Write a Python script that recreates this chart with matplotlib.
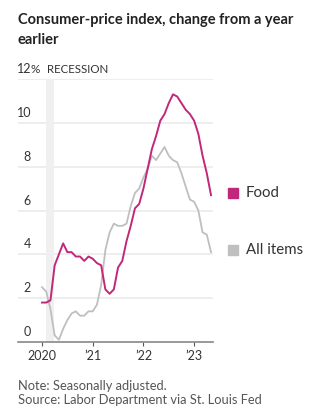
import numpy as np
import matplotlib
matplotlib.use("Agg")
import matplotlib.pyplot as plt

# monthly, Jan 2020 .. May 2023 (year-over-year % change)
all_items = [2.5, 2.3, 1.5, 0.3, 0.1, 0.6, 1.0, 1.3, 1.4, 1.2, 1.2, 1.4,
             1.4, 1.7, 2.6, 4.2, 5.0, 5.4, 5.3, 5.3, 5.4, 6.2, 6.8, 7.0,
             7.5, 7.9, 8.5, 8.3, 8.6, 8.9, 8.5, 8.3, 8.2, 7.7, 7.1, 6.5,
             6.4, 6.0, 5.0, 4.9, 4.1]
food = [1.8, 1.8, 1.9, 3.5, 4.0, 4.5, 4.1, 4.1, 3.9, 3.9, 3.7, 3.9,
        3.8, 3.6, 3.5, 2.4, 2.2, 2.4, 3.4, 3.7, 4.6, 5.3, 6.1, 6.3,
        7.0, 7.9, 8.8, 9.4, 10.1, 10.4, 10.9, 11.3, 11.2, 10.9, 10.6, 10.4,
        10.1, 9.5, 8.5, 7.7, 6.7]
months = np.arange(len(food))

year_ticks = [0, 12, 24, 36]
year_labels = ["2020", "\u201921", "\u201922", "\u201923"]
y_ticks = [0, 2, 4, 6, 8, 10, 12]
recession = (1, 3)

food_color = "#c1287a"
all_color = "#bfbfbf"
text_color = "#333333"

plt.rcParams['font.family'] = ['Lato', 'DejaVu Sans']

W, H = 322, 418
fig = plt.figure(figsize=(W / 100, H / 100), dpi=100)

# axes placed in pixel units
left, right, top, bottom = 18, 213, 79, 342
ax = fig.add_axes([left / W, 1 - bottom / H, (right - left) / W, (bottom - top) / H])
ax.set_xlim(-5.68, 40.47)
ax.set_ylim(0, 12)

for s in ["top", "right", "left"]:
    ax.spines[s].set_visible(False)
ax.spines["bottom"].set_color("#888888")
ax.spines["bottom"].set_linewidth(1.2)
ax.set_yticks([])
ax.set_xticks(year_ticks)
ax.set_xticklabels(year_labels)
ax.tick_params(axis="x", length=3, width=0.8, color="#555555", labelsize=9,
               labelcolor=text_color, pad=3)

for y in y_ticks[1:]:
    ax.axhline(y, color="#ebebeb", lw=1.2, zorder=0)

ax.axvspan(recession[0] - 0.1, recession[1] - 0.1, color="#f0f0f0", lw=0, zorder=0)

ax.plot(months, all_items, color=all_color, lw=1.3, zorder=2)
ax.plot(months, food, color=food_color, lw=1.4, zorder=3)

# y labels sit above the gridlines
for y in y_ticks:
    fig.text(31 / W, 1 - (bottom - y * (bottom - top) / 12 - 4) / H, str(y),
             ha="right", va="bottom", fontsize=9, color=text_color)
fig.text(30.5 / W, 1 - (top - 4) / H, "%", ha="left", va="bottom",
         fontsize=8.5, color=text_color)
fig.text(47 / W, 1 - (top - 4) / H, "RECESSION", ha="left", va="bottom",
         fontsize=8.3, color=text_color)

# legend
for ypix, label, col in [(193, "Food", food_color), (250, "All items", all_color)]:
    fig.patches.append(plt.Rectangle((228 / W, 1 - (ypix + 5) / H), 10 / W, 10 / H,
                                     transform=fig.transFigure, color=col))
    fig.text(246 / W, 1 - ypix / H, label, ha="left", va="center",
             fontsize=10.8, color=text_color)

fig.text(18 / W, 1 - 20 / H, "Consumer-price index, change from a year",
         ha="left", va="center", fontsize=10.5, fontweight="bold", color="#222222")
fig.text(18 / W, 1 - 40 / H, "earlier",
         ha="left", va="center", fontsize=10.5, fontweight="bold", color="#222222")

fig.text(18 / W, 1 - 386 / H, "Note: Seasonally adjusted.",
         ha="left", va="center", fontsize=9.3, color="#555555")
fig.text(18 / W, 1 - 400 / H, "Source: Labor Department via St. Louis Fed",
         ha="left", va="center", fontsize=9.3, color="#555555")

fig.savefig("out.png", dpi=100)
